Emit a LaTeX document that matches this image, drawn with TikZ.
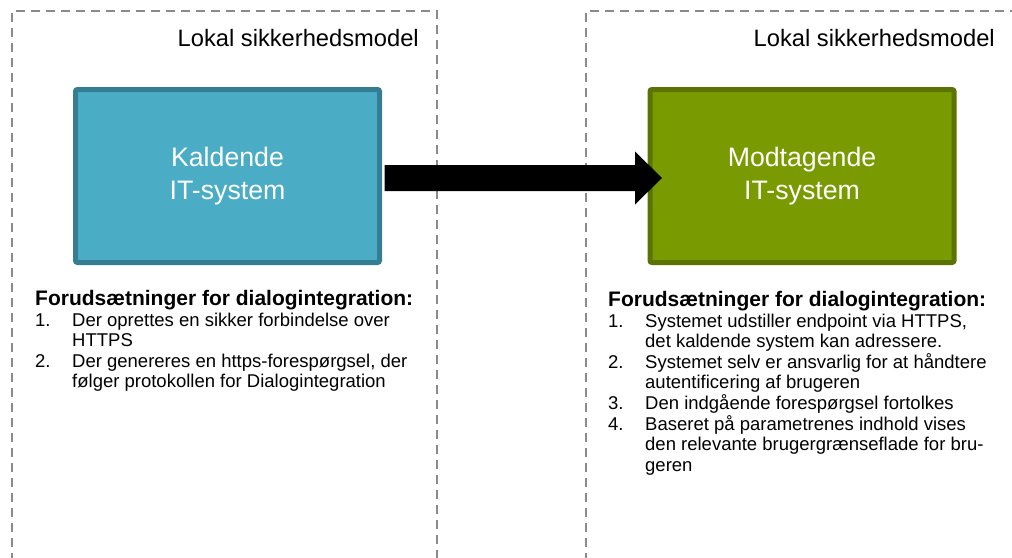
\documentclass[tikz,border=0pt]{standalone}
\usepackage{fontspec}
\setmainfont{Liberation Sans}
\usetikzlibrary{calc}
\definecolor{bluefill}{HTML}{4BACC6}
\definecolor{blueline}{HTML}{357D92}
\definecolor{greenfill}{HTML}{7A9A01}
\definecolor{greenline}{HTML}{5B7300}
\definecolor{dashgray}{HTML}{8A8A8A}
\begin{document}
\begin{tikzpicture}[x=1pt,y=-1pt,
  zone/.style={draw=dashgray, line width=2pt, dash pattern=on 9pt off 6pt},
  sysbox/.style={rectangle, rounded corners=2pt, line width=5pt, minimum width=304pt,
    minimum height=173pt, text=white, align=center, inner sep=0pt,
    font=\fontsize{26.7}{33}\selectfont},
  zonetitle/.style={anchor=base east, inner sep=0pt, font=\fontsize{23.7}{28}\selectfont},
  heading/.style={anchor=base west, inner sep=0pt, font=\bfseries\fontsize{21}{25}\selectfont},
  itemlist/.style={anchor=base west, inner sep=0pt, font=\fontsize{18.5}{20.3}\selectfont}
]
\useasboundingbox (0,0) rectangle (1012,557);
% dashed zones
\draw[zone] (12,562) -- (12,11) -- (437,11) -- (437,562);
\draw[zone] (586,562) -- (586,11) -- (1020,11);
\node[zonetitle] (t1) at (419,46) {Lokal sikkerhedsmodel};
\node[zonetitle] (t2) at (995,46) {Lokal sikkerhedsmodel};
% systems
\node[sysbox, fill=bluefill, draw=blueline] (k) at (227.5,176) {Kaldende\\IT-system};
\node[sysbox, fill=greenfill, draw=greenline] (m) at (802,176) {Modtagende\\IT-system};
% arrow
\coordinate (as) at ($(k.east)+(2.5,2)$);
\coordinate (at) at ($(m.west)+(14.5,2)$);
\fill[black] ($(as)+(0,-13)$) -- ($(at)+(-27,-13)$) -- ($(at)+(-27,-26.5)$) -- (at)
  -- ($(at)+(-27,26.5)$) -- ($(at)+(-27,13)$) -- ($(as)+(0,13)$) -- cycle;
% lists
\node[heading] (h1) at (35,305) {Forudsætninger for dialogintegration:};
\node[itemlist] (l1) at (35,326.5) {\begin{tabular}[t]{@{}p{37pt}@{}l@{}}
1. & Der oprettes en sikker forbindelse over\\
   & HTTPS\\
2. & Der genereres en https-forespørgsel, der\\
   & følger protokollen for Dialogintegration
\end{tabular}};
\node[heading] (h2) at (608,306) {Forudsætninger for dialogintegration:};
\node[itemlist] (l2) at (608,327) {\begin{tabular}[t]{@{}p{37pt}@{}l@{}}
1. & Systemet udstiller endpoint via HTTPS,\\
   & det kaldende system kan adressere.\\
2. & Systemet selv er ansvarlig for at håndtere\\
   & autentificering af brugeren\\
3. & Den indgående forespørgsel fortolkes\\
4. & Baseret på parametrenes indhold vises\\
   & den relevante brugergrænseflade for bru-\\
   & geren
\end{tabular}};
\end{tikzpicture}
\end{document}
